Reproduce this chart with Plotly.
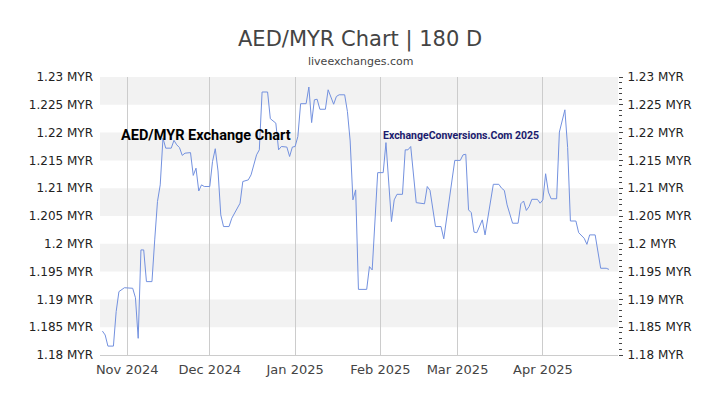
import plotly.graph_objects as go

dates = [
    "2024-10-23", "2024-10-24", "2024-10-25", "2024-10-27", "2024-10-28", "2024-10-29", "2024-10-31",
    "2024-11-03", "2024-11-04", "2024-11-05", "2024-11-06", "2024-11-07", "2024-11-08", "2024-11-10",
    "2024-11-11", "2024-11-12", "2024-11-13", "2024-11-14", "2024-11-15", "2024-11-17", "2024-11-18",
    "2024-11-19", "2024-11-20", "2024-11-21", "2024-11-22", "2024-11-24", "2024-11-25", "2024-11-26",
    "2024-11-27", "2024-11-28", "2024-11-29", "2024-12-01", "2024-12-02", "2024-12-03", "2024-12-04",
    "2024-12-05", "2024-12-06", "2024-12-08", "2024-12-09", "2024-12-10", "2024-12-12", "2024-12-13",
    "2024-12-15", "2024-12-16", "2024-12-17", "2024-12-18", "2024-12-19", "2024-12-20", "2024-12-22",
    "2024-12-23", "2024-12-25", "2024-12-26", "2024-12-27", "2024-12-29", "2024-12-30", "2024-12-31",
    "2025-01-01", "2025-01-02", "2025-01-03", "2025-01-05", "2025-01-06", "2025-01-07", "2025-01-08",
    "2025-01-09", "2025-01-10", "2025-01-12", "2025-01-13", "2025-01-15", "2025-01-16", "2025-01-17",
    "2025-01-19", "2025-01-20", "2025-01-21", "2025-01-22", "2025-01-23", "2025-01-24", "2025-01-27",
    "2025-01-28", "2025-01-29", "2025-01-31", "2025-02-02", "2025-02-03", "2025-02-05", "2025-02-06",
    "2025-02-07", "2025-02-09", "2025-02-10", "2025-02-11", "2025-02-12", "2025-02-14", "2025-02-17",
    "2025-02-18", "2025-02-19", "2025-02-21", "2025-02-23", "2025-02-24", "2025-02-28", "2025-03-02",
    "2025-03-03", "2025-03-04", "2025-03-05", "2025-03-06", "2025-03-07", "2025-03-08", "2025-03-10",
    "2025-03-11", "2025-03-14", "2025-03-16", "2025-03-17", "2025-03-18", "2025-03-19", "2025-03-21",
    "2025-03-23", "2025-03-24", "2025-03-25", "2025-03-26", "2025-03-27", "2025-03-28", "2025-03-30",
    "2025-03-31", "2025-04-01", "2025-04-02", "2025-04-03", "2025-04-04", "2025-04-06", "2025-04-07",
    "2025-04-09", "2025-04-10", "2025-04-11", "2025-04-13", "2025-04-14", "2025-04-16", "2025-04-17",
    "2025-04-18", "2025-04-20", "2025-04-22", "2025-04-24", "2025-04-25",
]

rates = [
    1.1843, 1.1836, 1.1816, 1.1816, 1.1878, 1.1914, 1.1921,
    1.1920, 1.1903, 1.1830, 1.1989, 1.1989, 1.1932, 1.1932,
    1.2007, 1.2076, 1.2106, 1.2190, 1.2172, 1.2172, 1.2186,
    1.2178, 1.2173, 1.2159, 1.2163, 1.2164, 1.2123, 1.2136,
    1.2095, 1.2106, 1.2103, 1.2103, 1.2148, 1.2171, 1.2131,
    1.2052, 1.2031, 1.2031, 1.2046, 1.2055, 1.2073, 1.2112,
    1.2115, 1.2124, 1.2142, 1.2160, 1.2169, 1.2273, 1.2273,
    1.2225, 1.2217, 1.2169, 1.2175, 1.2174, 1.2157, 1.2174,
    1.2175, 1.2193, 1.2252, 1.2252, 1.2282, 1.2218, 1.2259,
    1.2260, 1.2242, 1.2242, 1.2277, 1.2251, 1.2265, 1.2268,
    1.2268, 1.2238, 1.2185, 1.2079, 1.2097, 1.1918, 1.1918,
    1.1959, 1.1953, 1.2128, 1.2128, 1.2182, 1.2040, 1.2079,
    1.2089, 1.2089, 1.2169, 1.2169, 1.2175, 1.2074, 1.2072,
    1.2103, 1.2096, 1.2031, 1.2031, 1.2009, 1.2150, 1.2150,
    1.2160, 1.2161, 1.2061, 1.2056, 1.2021, 1.2020, 1.2043,
    1.2016, 1.2107, 1.2107, 1.2100, 1.2096, 1.2070, 1.2037,
    1.2037, 1.2072, 1.2077, 1.2060, 1.2067, 1.2080, 1.2080,
    1.2073, 1.2079, 1.2126, 1.2093, 1.2081, 1.2081, 1.2201,
    1.2241, 1.2173, 1.2041, 1.2041, 1.2020, 1.2010, 1.1999,
    1.2016, 1.2016, 1.1956, 1.1956, 1.1954,
]

y_ticks = [1.18, 1.185, 1.19, 1.195, 1.2, 1.205, 1.21, 1.215, 1.22, 1.225, 1.23]
y_tick_labels = ["1.18 MYR", "1.185 MYR", "1.19 MYR", "1.195 MYR", "1.2 MYR", "1.205 MYR",
                 "1.21 MYR", "1.215 MYR", "1.22 MYR", "1.225 MYR", "1.23 MYR"]
x_ticks = ["2024-11-01", "2024-12-01", "2025-01-01", "2025-02-01", "2025-03-01", "2025-04-01"]
x_tick_labels = ["Nov 2024", "Dec 2024", "Jan 2025", "Feb 2025", "Mar 2025", "Apr 2025"]

W, H = 720, 405
L, R, T, B = 100, 102, 77, 50
PW, PH = W - L - R, H - T - B


def px(x):
    return (x - L) / PW


def py(y):
    return 1 - (y - T) / PH


fig = go.Figure()
fig.add_trace(go.Scatter(x=dates, y=rates, mode="lines",
                         line=dict(color="#7391df", width=1), showlegend=False,
                         hoverinfo="skip"))
# invisible trace to activate right axis
fig.add_trace(go.Scatter(x=[dates[0]], y=[rates[0]], yaxis="y2", mode="markers",
                         marker=dict(opacity=0), showlegend=False, hoverinfo="skip"))

shapes = []
for i in range(len(y_ticks) - 1):
    if (len(y_ticks) - 2 - i) % 2 == 0:
        shapes.append(dict(type="rect", xref="paper", yref="y", x0=0, x1=1,
                           y0=y_ticks[i], y1=y_ticks[i + 1], fillcolor="#f2f2f2",
                           line=dict(width=0), layer="below"))

font_main = "DejaVu Sans, Verdana, sans-serif"
font_mark = "Roboto, Liberation Sans, sans-serif"
yrange = [y_ticks[0], y_ticks[-1]]

fig.update_layout(
    width=W, height=H,
    margin=dict(l=L, r=R, t=T, b=B),
    paper_bgcolor="white", plot_bgcolor="white",
    shapes=shapes,
    font=dict(family=font_main, color="#222", size=12),
    xaxis=dict(range=["2024-10-22 03:00", "2025-04-28 07:00"], type="date",
               tickvals=x_ticks, ticktext=x_tick_labels,
               showgrid=True, gridcolor="#cccccc", gridwidth=1,
               showline=True, linecolor="#cccccc", linewidth=1,
               ticks="", ticklabelstandoff=2,
               tickfont=dict(size=13, color="#444"), zeroline=False),
    yaxis=dict(range=yrange, tickvals=y_ticks, ticktext=y_tick_labels,
               showgrid=False, zeroline=False, ticks="", ticklabelstandoff=6,
               tickfont=dict(size=12, color="#222")),
    yaxis2=dict(range=yrange, overlaying="y", side="right",
                tickvals=y_ticks, ticktext=y_tick_labels,
                showgrid=False, zeroline=False,
                ticks="outside", ticklen=4, tickcolor="#444",
                minor=dict(dtick=0.001, ticks="outside", ticklen=3, tickcolor="#444",
                           showgrid=False),
                ticklabelstandoff=2, tickfont=dict(size=12, color="#222")),
    annotations=[
        dict(text="AED/MYR Chart | 180 D", xref="paper", yref="paper",
             x=px(360), y=py(40), xanchor="center", yanchor="middle", showarrow=False,
             font=dict(family=font_main, size=21, color="#444")),
        dict(text="liveexchanges.com", xref="paper", yref="paper",
             x=px(360), y=py(62), xanchor="center", yanchor="middle", showarrow=False,
             font=dict(family=font_main, size=11, color="#444")),
        dict(text="<b>AED/MYR Exchange Chart</b>", xref="paper", yref="paper",
             x=px(119), y=py(135), xanchor="left", yanchor="middle", showarrow=False,
             font=dict(family=font_mark, size=14.5, color="#000")),
        dict(text="<b>ExchangeConversions.Com 2025</b>", xref="paper", yref="paper",
             x=px(381), y=py(135), xanchor="left", yanchor="middle", showarrow=False,
             font=dict(family=font_mark, size=10.5, color="#1b1b6e")),
    ],
)

fig.write_html("out.html")
